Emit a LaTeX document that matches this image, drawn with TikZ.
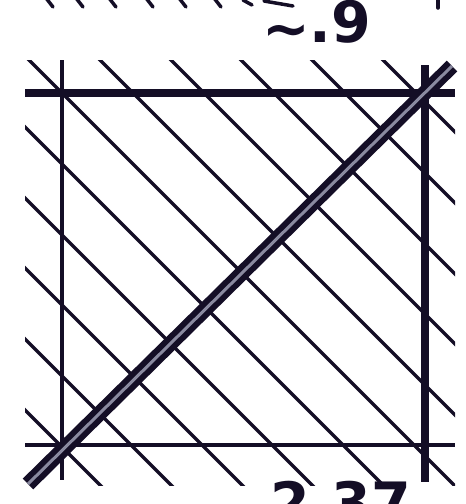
\documentclass[tikz,border=0pt]{standalone}
\usepackage{fontspec}
\newfontfamily\sketchfont{DejaVu Sans}
\usetikzlibrary{calc}
\definecolor{ink}{HTML}{140E26}
\definecolor{inkmid}{HTML}{8A8AA0}

\begin{document}
\begin{tikzpicture}[x=1pt, y=-1pt,
  every node/.style={font=\sketchfont\bfseries\fontsize{57}{57}\selectfont,
                     text=ink, inner sep=0pt},
  hatch/.style    ={draw=ink, line width=3.5pt, line cap=round},
  edgethin/.style ={draw=ink, line width=4.5pt},
  edgethick/.style={draw=ink, line width=8pt},
  diag/.style     ={draw=ink, line width=6pt, double=inkmid, double distance=3pt}]

\useasboundingbox (0,0) rectangle (466,504);
\clip (0,0) rectangle (466,504);

%% ── Frame corners ────────────────────────────────────────────────
\coordinate (tl) at (62,93);
\coordinate (tr) at (425,93);
\coordinate (bl) at (62,445);
\coordinate (br) at (425,445);

%% ── Hatching (45 degree strokes, running past the frame) ─────────
\begin{scope}
  \clip (25,60) rectangle (455,485);
  \foreach \c in {-385,-314,-243,-173,-102,-31,40,111,181,252,323}
    \draw[hatch] (\c+40,40) -- (\c+500,500);
\end{scope}

%% ── Stubs left over from the sketch above ────────────────────────
\foreach \x in {50,80,113,150,183,218}
  \draw[hatch] (\x-4,-2) -- (\x+3,7);
\draw[hatch] (243,0) -- (252,5);
\draw[hatch] (264,1) -- (293,6);
\draw[hatch] (438,-2) -- (438,8);

%% ── Frame lines (overshooting the corners) ──────────────────────
\draw[edgethick] ($(tl)+(-37,0)$) -- ($(tr)+(30,0)$);
\draw[edgethin]  ($(bl)+(-37,0)$) -- ($(br)+(30,0)$);
\draw[edgethin]  ($(tl)+(0,-33)$) -- ($(bl)+(0,35)$);
\draw[edgethick] ($(tr)+(0,-28)$) -- ($(br)+(0,37)$);

%% ── Diagonal, double stroke ─────────────────────────────────────
\coordinate (dstart) at (28,484);
\coordinate (dend)   at (452,66);
\draw[diag] (dstart) -- (dend);

%% ── Values ───────────────────────────────────────────────────────
\node[anchor=base west] (topval) at (262,42) {\raisebox{-6pt}{\textasciitilde}.9};
\node[anchor=base west] (botval) at (270,523) {2.37};
\end{tikzpicture}
\end{document}
